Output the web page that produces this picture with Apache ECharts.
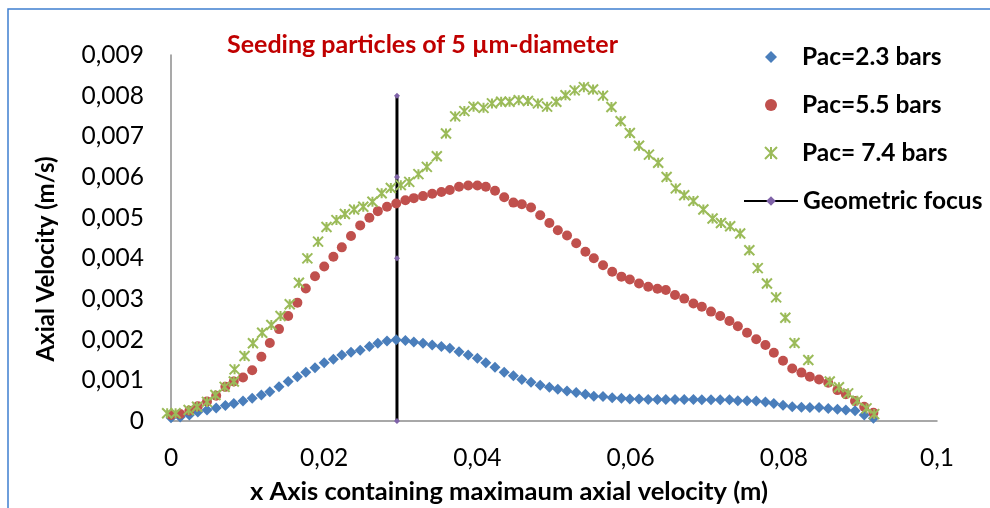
<!DOCTYPE html>
<html>
<head>
<meta charset="utf-8">
<script src="https://cdn.jsdelivr.net/npm/echarts@6/dist/echarts.min.js"></script>
<style>
  html, body { margin: 0; padding: 0; background: #fff; }
  #chart { width: 990px; height: 508px; }
</style>
</head>
<body>
<div id="chart"></div>
<script>
// x positions shared by the 2.3 and 5.5 bar series (m)
const xGrid = [0, 0.0012, 0.0024, 0.0035, 0.0047, 0.0059, 0.0071, 0.0082, 0.0094, 0.0106,
  0.0118, 0.0129, 0.0141, 0.0153, 0.0165, 0.0176, 0.0188, 0.0200, 0.0212, 0.0223,
  0.0235, 0.0247, 0.0259, 0.0270, 0.0282, 0.0294, 0.0306, 0.0317, 0.0329, 0.0341,
  0.0353, 0.0364, 0.0376, 0.0388, 0.0400, 0.0411, 0.0423, 0.0435, 0.0447, 0.0458,
  0.0470, 0.0482, 0.0494, 0.0505, 0.0517, 0.0529, 0.0541, 0.0552, 0.0564, 0.0576,
  0.0588, 0.0599, 0.0611, 0.0623, 0.0635, 0.0646, 0.0658, 0.0670, 0.0682, 0.0693,
  0.0705, 0.0717, 0.0729, 0.0740, 0.0752, 0.0764, 0.0776, 0.0787, 0.0799, 0.0811,
  0.0823, 0.0834, 0.0846, 0.0858, 0.0870, 0.0881, 0.0893, 0.0905, 0.0917];

// Pac = 2.3 bars (m/s)
const vel23 = [0.00008, 0.00010, 0.00015, 0.00022, 0.00027, 0.00032, 0.00038, 0.00043, 0.00049, 0.00056,
  0.00064, 0.00072, 0.00084, 0.00097, 0.00109, 0.00120, 0.00131, 0.00143, 0.00152, 0.00162,
  0.00169, 0.00174, 0.00183, 0.00191, 0.00197, 0.00200, 0.00198, 0.00194, 0.00191, 0.00187,
  0.00183, 0.00179, 0.00170, 0.00162, 0.00154, 0.00143, 0.00132, 0.00120, 0.00111, 0.00102,
  0.00095, 0.00088, 0.00083, 0.00078, 0.00074, 0.00070, 0.00066, 0.00061, 0.00060, 0.00057,
  0.00056, 0.00054, 0.00054, 0.00053, 0.00053, 0.00053, 0.00053, 0.00053, 0.00053, 0.00052,
  0.00052, 0.00052, 0.00052, 0.00050, 0.00050, 0.00049, 0.00047, 0.00043, 0.00039, 0.00035,
  0.00034, 0.00033, 0.00033, 0.00031, 0.00029, 0.00027, 0.00025, 0.00015, 0.00007];

// Pac = 5.5 bars (m/s)
const vel55 = [0.00015, 0.00017, 0.00025, 0.00036, 0.00048, 0.00062, 0.00084, 0.00097, 0.00107, 0.00125,
  0.00158, 0.00192, 0.00226, 0.00258, 0.00291, 0.00326, 0.00356, 0.00380, 0.00404, 0.00427,
  0.00455, 0.00481, 0.00500, 0.00516, 0.00527, 0.00535, 0.00543, 0.00548, 0.00553, 0.00559,
  0.00563, 0.00568, 0.00576, 0.00579, 0.00579, 0.00576, 0.00566, 0.00550, 0.00537, 0.00533,
  0.00525, 0.00506, 0.00487, 0.00469, 0.00456, 0.00437, 0.00416, 0.00400, 0.00383, 0.00367,
  0.00355, 0.00348, 0.00338, 0.00330, 0.00325, 0.00322, 0.00310, 0.00301, 0.00289, 0.00281,
  0.00269, 0.00258, 0.00246, 0.00233, 0.00217, 0.00201, 0.00187, 0.00168, 0.00148, 0.00129,
  0.00119, 0.00109, 0.00102, 0.00094, 0.00076, 0.00066, 0.00049, 0.00035, 0.00020];

// Pac = 7.4 bars, own x positions (m) and velocities (m/s)
const x74 = [-0.0005, 0.0006, 0.0023, 0.0034, 0.0047, 0.0058, 0.0070, 0.0082, 0.0083, 0.0096,
  0.0107, 0.0119, 0.0131, 0.0143, 0.0155, 0.0167, 0.0178, 0.0192, 0.0203, 0.0216,
  0.0227, 0.0239, 0.0251, 0.0263, 0.0275, 0.0287, 0.0300, 0.0311, 0.0323, 0.0334,
  0.0347, 0.0359, 0.0371, 0.0383, 0.0395, 0.0408, 0.0419, 0.0431, 0.0442, 0.0454,
  0.0466, 0.0479, 0.0491, 0.0503, 0.0515, 0.0527, 0.0539, 0.0551, 0.0564, 0.0575,
  0.0587, 0.0599, 0.0611, 0.0624, 0.0636, 0.0647, 0.0659, 0.0670, 0.0682, 0.0695,
  0.0707, 0.0718, 0.0730, 0.0743, 0.0755, 0.0766, 0.0778, 0.0790, 0.0802, 0.0814,
  0.0832, 0.0860, 0.0872, 0.0884, 0.0896, 0.0908, 0.0918];
const vel74 = [0.00019, 0.00019, 0.00027, 0.00035, 0.00047, 0.00064, 0.00084, 0.00097, 0.00127, 0.00160,
  0.00191, 0.00217, 0.00236, 0.00258, 0.00287, 0.00340, 0.00400, 0.00441, 0.00477, 0.00494,
  0.00509, 0.00520, 0.00527, 0.00539, 0.00560, 0.00573, 0.00580, 0.00588, 0.00607, 0.00625,
  0.00651, 0.00707, 0.00749, 0.00762, 0.00773, 0.00770, 0.00781, 0.00785, 0.00785, 0.00789,
  0.00787, 0.00781, 0.00773, 0.00785, 0.00801, 0.00813, 0.00821, 0.00815, 0.00800, 0.00772,
  0.00737, 0.00708, 0.00677, 0.00655, 0.00635, 0.00600, 0.00572, 0.00555, 0.00541, 0.00520,
  0.00498, 0.00487, 0.00479, 0.00461, 0.00420, 0.00376, 0.00338, 0.00304, 0.00254, 0.00192,
  0.00150, 0.00097, 0.00083, 0.00068, 0.00050, 0.00031, 0.00017];

// geometric focus (vertical line)
const focusX = [0.0295, 0.0295, 0.0295, 0.0295, 0.0295];
const focusY = [0, 0.002, 0.004, 0.006, 0.008];

const zip = (xs, ys) => xs.map((x, i) => [x, ys[i]]);
const comma = s => s.replace('.', ',');

const chart = echarts.init(document.getElementById('chart'));
const font = 'Lato, "Noto Sans", sans-serif';
const legendText = { fontSize: 24.5, fontWeight: 'bold', color: '#000', fontFamily: font, lineHeight: 26 };

const option = {
  backgroundColor: '#fff',
  animation: false,
  textStyle: { fontFamily: font },
  title: {
    text: 'Seeding particles of 5 µm-diameter',
    left: 227, top: 32, padding: 0,
    textStyle: { color: '#c00000', fontSize: 25, fontWeight: 'bold', fontFamily: font }
  },
  legend: [
    {
      orient: 'vertical',
      left: 764, top: 44, padding: 0,
      itemWidth: 12, itemHeight: 12,
      itemGap: 22,
      data: ['Pac=2.3 bars', 'Pac=5.5 bars', 'Pac= 7.4 bars'],
      textStyle: Object.assign({ padding: [0, 0, 0, 20] }, legendText)
    },
    {
      orient: 'vertical',
      left: 743, top: 188, padding: 0,
      itemWidth: 54, itemHeight: 12,
      data: ['Geometric focus'],
      textStyle: Object.assign({ padding: [0, 0, 0, 0] }, legendText)
    }
  ],
  grid: { left: 171, right: 53, top: 55, bottom: 87 },
  xAxis: {
    type: 'value', min: 0, max: 0.1, interval: 0.02,
    axisLine: { show: true, lineStyle: { color: '#8c8c8c', width: 1.5 } },
    axisTick: { show: false },
    splitLine: { show: false },
    axisLabel: { fontSize: 24.5, color: '#000', margin: 25,
      formatter: v => comma(String(parseFloat(v.toFixed(2)))) }
  },
  yAxis: {
    type: 'value', min: 0, max: 0.009, interval: 0.001,
    axisLine: { show: true, lineStyle: { color: '#8c8c8c', width: 1.5 } },
    axisTick: { show: false },
    splitLine: { show: false },
    axisLabel: { fontSize: 24.5, color: '#000', margin: 27,
      formatter: v => v === 0 ? '0' : comma(v.toFixed(3)) }
  },
  graphic: [
    {
      type: 'polyline',
      shape: { points: [[8, 508], [8, 9], [990, 9]] },
      style: { stroke: '#3f7fcf', lineWidth: 1.5, fill: null }
    },
    {
      type: 'text', x: 509, y: 492,
      style: { text: 'x Axis containing maximaum axial velocity (m)', fill: '#000',
        font: 'bold 25.5px ' + font, align: 'center', verticalAlign: 'middle' }
    },
    {
      type: 'text', x: 46, y: 259, rotation: Math.PI / 2,
      style: { text: 'Axial Velocity (m/s)', fill: '#000',
        font: 'bold 24px ' + font, align: 'center', verticalAlign: 'middle' }
    }
  ],
  series: [
    {
      name: 'Geometric focus', type: 'line', z: 1,
      data: zip(focusX, focusY),
      symbol: 'diamond', symbolSize: 6,
      lineStyle: { color: '#000', width: 3 },
      itemStyle: { color: '#7f62a8' }
    },
    {
      name: 'Pac=2.3 bars', type: 'scatter', z: 3, clip: false,
      data: zip(xGrid, vel23),
      symbol: 'diamond', symbolSize: 11,
      itemStyle: { color: '#4a7ebb', opacity: 1 }
    },
    {
      name: 'Pac=5.5 bars', type: 'scatter', z: 3, clip: false,
      data: zip(xGrid, vel55),
      symbol: 'circle', symbolSize: 10,
      itemStyle: { color: '#c0504d', opacity: 1 }
    },
    {
      name: 'Pac= 7.4 bars', type: 'scatter', z: 4, clip: false,
      data: zip(x74, vel74),
      symbol: 'path://M0,0L10,10M10,0L0,10M5,0L5,10',
      symbolSize: 10,
      itemStyle: { color: 'rgba(0,0,0,0)', borderColor: '#9bbb59', borderWidth: 2, opacity: 1 }
    }
  ]
};

chart.setOption(option);
</script>
</body>
</html>
